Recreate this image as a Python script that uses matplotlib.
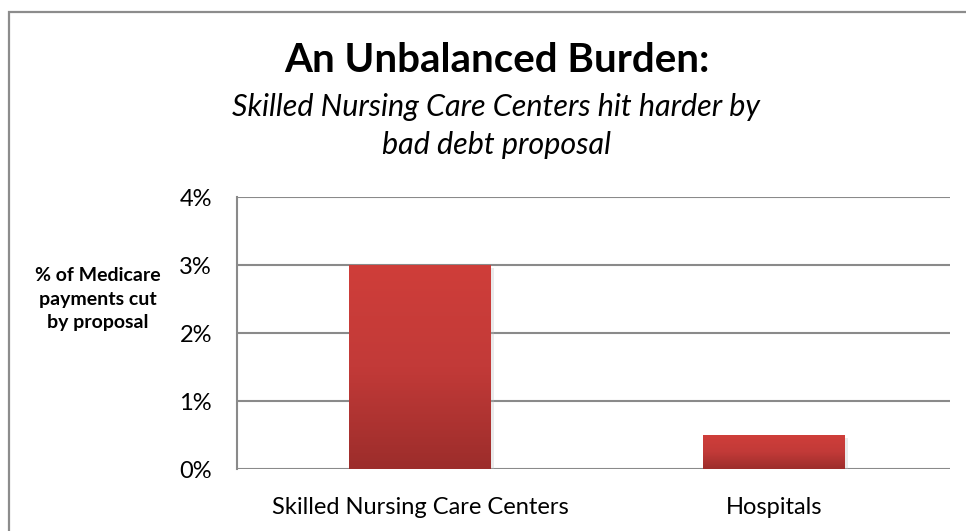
import numpy as np
import matplotlib.pyplot as plt
from matplotlib.patches import Rectangle
from matplotlib.colors import LinearSegmentedColormap
import matplotlib.patheffects as pe

# data
categories = ["Skilled Nursing Care Centers", "Hospitals"]
values = [3.0, 0.5]  # percent of Medicare payments cut
yticks = [0, 1, 2, 3, 4]
ytick_labels = ["0%", "1%", "2%", "3%", "4%"]

plt.rcParams['font.family'] = ['Lato', 'DejaVu Sans']

fig = plt.figure(figsize=(9.66, 5.31), dpi=100)
ax = fig.add_axes([237/966, 1 - 469/531, 713/966, 272/531])

# outer chart border, like the excel chart frame
fig.patches.append(Rectangle((9/966, -0.1), 1.2, 1.1 - 12/531, transform=fig.transFigure,
                             fill=False, edgecolor="#8c8c8c", linewidth=1.6))

x = np.arange(len(categories))
bars = ax.bar(x, values, width=0.4, color="#c0393a", zorder=3,
              path_effects=[pe.SimplePatchShadow(offset=(2, -2), shadow_rgbFace="#bbbbbb", alpha=0.3), pe.Normal()])

# vertical gradient inside each bar
cmap = LinearSegmentedColormap.from_list("red_grad", ["#9c2d2b", "#c23a38", "#cf3e3a"])
grad = np.linspace(0, 1, 256).reshape(-1, 1)
for b in bars:
    x0, w, h = b.get_x(), b.get_width(), b.get_height()
    im = ax.imshow(grad, extent=(x0, x0 + w, 0, h), origin="lower", cmap=cmap,
                   aspect="auto", zorder=4)
    im.set_clip_path(b)

ax.set_xlim(-0.517, 1.497)
ax.set_ylim(0, 4)
ax.set_yticks(yticks)
ax.set_yticklabels(ytick_labels, fontsize=17)
ax.set_xticks(x)
ax.set_xticklabels(categories, fontsize=17)
ax.tick_params(axis="both", length=0)
ax.tick_params(axis="y", pad=18)
ax.tick_params(axis="x", pad=20)

ax.grid(axis="y", color="#8a8a8a", linewidth=1.5, zorder=0)
for s in ["top", "right", "bottom"]:
    ax.spines[s].set_visible(False)
ax.spines["left"].set_color("#8a8a8a")
ax.spines["left"].set_linewidth(1.5)

fig.text(98/966, 1 - 299/531, "% of Medicare\npayments cut\nby proposal", ha="center", va="center",
         fontsize=14, fontweight="bold", linespacing=1.45)

fig.text(497/966, 1 - 60/531, "An Unbalanced Burden:", ha="center", va="center",
         fontsize=29, fontweight="bold")
fig.text(496/966, 1 - 126/531, "Skilled Nursing Care Centers hit harder by\nbad debt proposal",
         ha="center", va="center", fontsize=22, style="italic", linespacing=1.45)

fig.savefig("out.png", dpi=100)
